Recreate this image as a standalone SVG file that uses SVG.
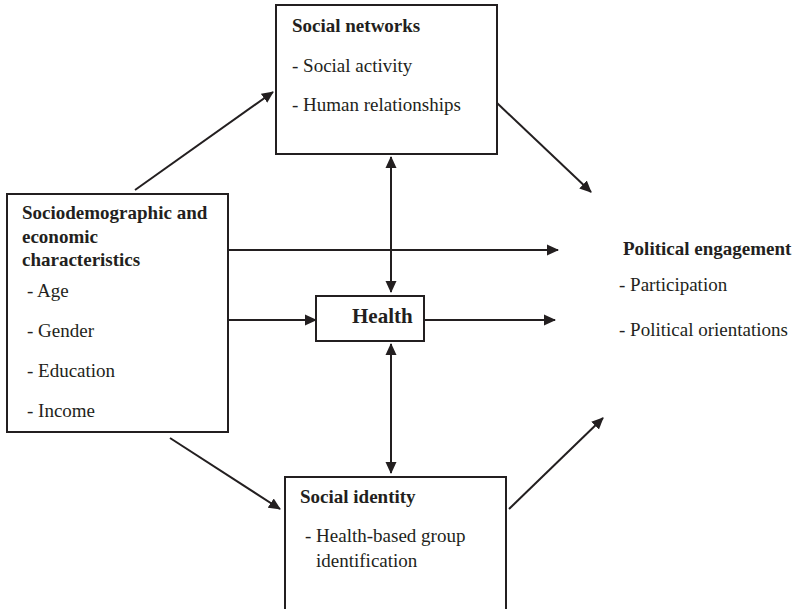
<svg xmlns="http://www.w3.org/2000/svg" width="798" height="609" viewBox="0 0 798 609">
<style>
.box{fill:#fff;stroke:#231f20;stroke-width:2}
.t{font-family:'Liberation Serif','Times New Roman',Times,'DejaVu Serif',serif;font-size:19px;fill:#231f20}
.b{font-weight:bold}
.c{stroke:#231f20;stroke-width:2;fill:none}
</style>
<defs>
<marker id="ah" markerUnits="userSpaceOnUse" markerWidth="12" markerHeight="12" refX="11" refY="6" orient="auto-start-reverse">
<path d="M0,0.5 L12,6 L0,11.5 z" fill="#231f20"/>
</marker>
</defs>
<rect width="798" height="609" fill="#fff"/>
<g id="connectors">
<line class="c" x1="135" y1="190" x2="273" y2="92" marker-end="url(#ah)"/>
<line class="c" x1="497" y1="103" x2="591" y2="192" marker-end="url(#ah)"/>
<line class="c" x1="228" y1="250" x2="558" y2="250" marker-end="url(#ah)"/>
<line class="c" x1="228" y1="320" x2="316" y2="320" marker-end="url(#ah)"/>
<line class="c" x1="424" y1="320" x2="555" y2="320" marker-end="url(#ah)"/>
<line class="c" x1="170" y1="438" x2="280" y2="509" marker-end="url(#ah)"/>
<line class="c" x1="509" y1="509" x2="603" y2="418" marker-end="url(#ah)"/>
<line class="c" x1="391" y1="157" x2="391" y2="292" marker-start="url(#ah)" marker-end="url(#ah)"/>
<line class="c" x1="391" y1="344" x2="391" y2="473" marker-start="url(#ah)" marker-end="url(#ah)"/>
</g>
<g id="social-networks">
<rect class="box" x="276" y="5" width="221" height="149"/>
<text class="t b" x="292" y="32">Social networks</text>
<text class="t" x="292" y="72">- Social activity</text>
<text class="t" x="292" y="111">- Human relationships</text>
</g>
<g id="sociodemographic">
<rect class="box" x="7" y="194" width="221" height="238"/>
<text class="t b" x="22" y="219">Sociodemographic and</text>
<text class="t b" x="22" y="243">economic</text>
<text class="t b" x="22" y="266">characteristics</text>
<text class="t" x="27" y="297">- Age</text>
<text class="t" x="27" y="337">- Gender</text>
<text class="t" x="27" y="377">- Education</text>
<text class="t" x="27" y="417">- Income</text>
</g>
<g id="health">
<rect class="box" x="316" y="296" width="108" height="45"/>
<text class="t b" x="352" y="323" style="font-size:21px">Health</text>
</g>
<g id="social-identity">
<rect class="box" x="285" y="477" width="221" height="150"/>
<text class="t b" x="300" y="503">Social identity</text>
<text class="t" x="305" y="542">- Health-based group</text>
<text class="t" x="316" y="567">identification</text>
</g>
<g id="political-engagement">
<text class="t b" x="623" y="255">Political engagement</text>
<text class="t" x="619" y="291">- Participation</text>
<text class="t" x="619" y="336">- Political orientations</text>
</g>
</svg>
